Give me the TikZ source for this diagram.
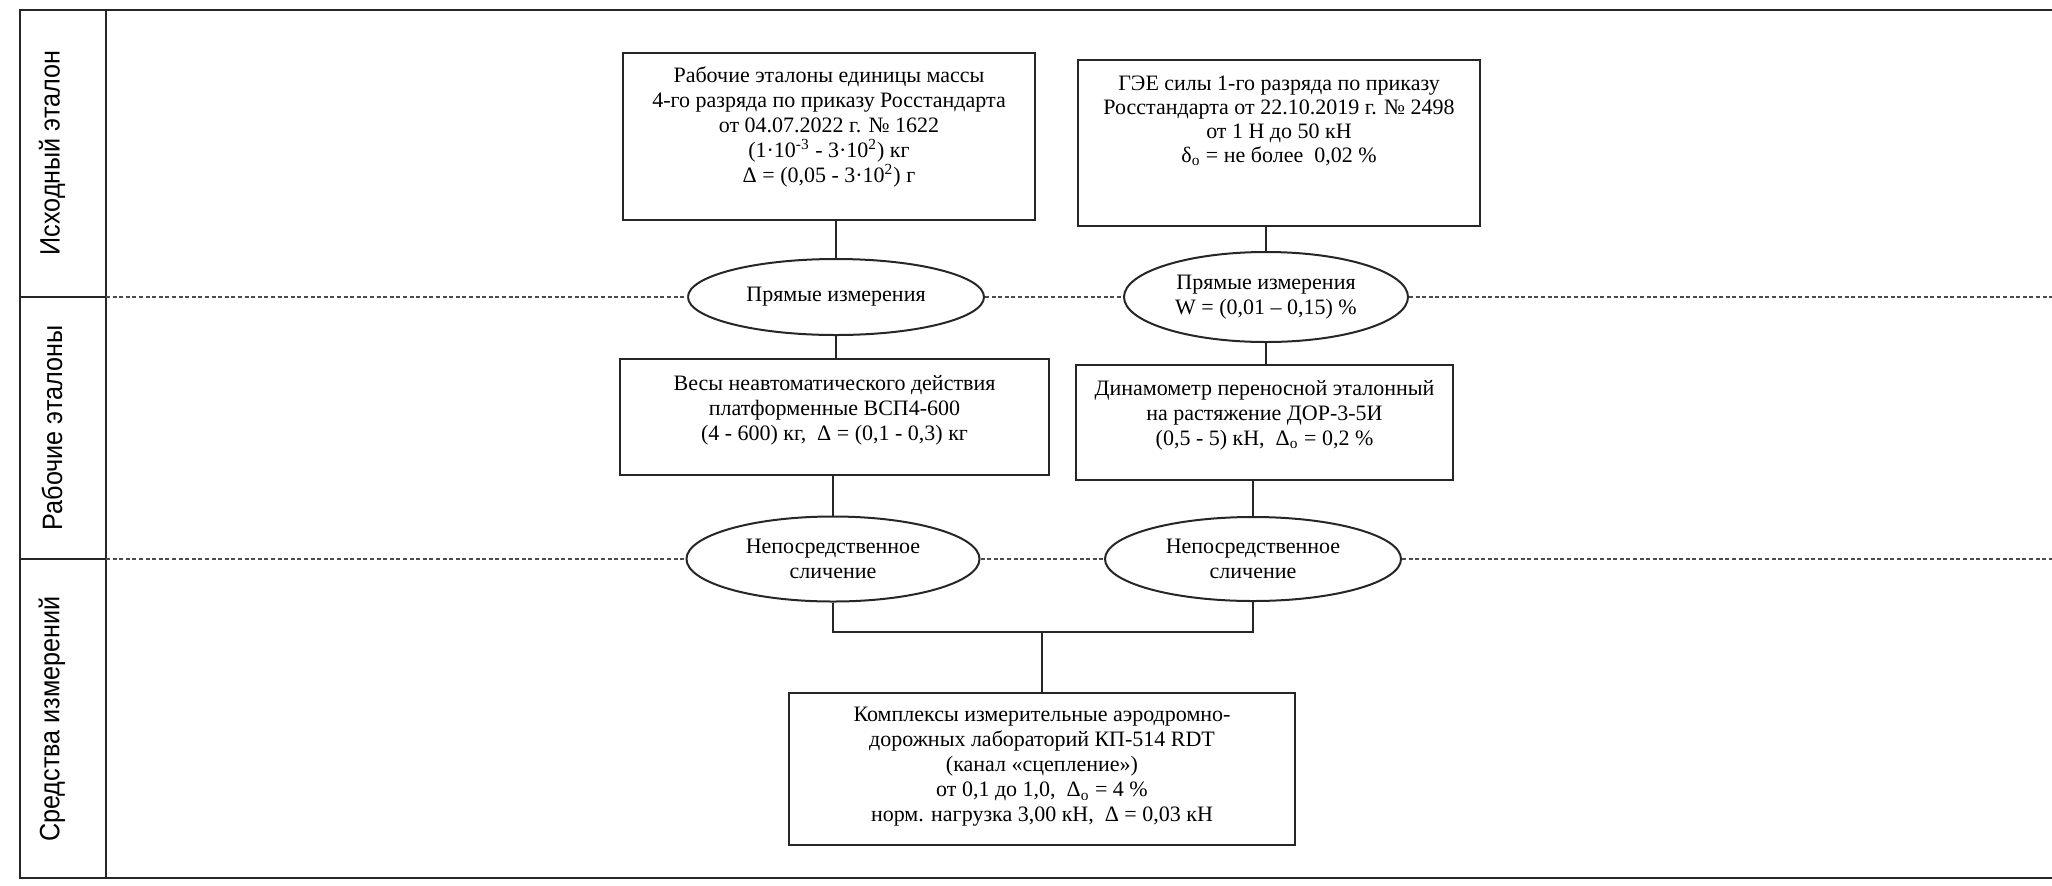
\documentclass[tikz,border=0pt]{standalone}
\usepackage{fontspec}
\setmainfont{Liberation Serif}
\newfontfamily\lblfont[FakeStretch=0.9]{Liberation Sans}
\usetikzlibrary{shapes.geometric}
\begin{document}
\begin{tikzpicture}[x=0.5pt,y=-0.5pt,
  ln/.style={draw=black!85, line width=0.9pt},
  boxnode/.style={draw=black!85, line width=1.2pt, rectangle, inner sep=0pt},
  ellnode/.style={draw=black!85, line width=1pt, ellipse, inner sep=0pt, align=center, font=\fontsize{11}{12.5}\selectfont},
  txt/.style={align=center, inner sep=0pt, font=\fontsize{11}{12.5}\selectfont},
  dotline/.style={draw=black!70, line width=0.6pt, dash pattern=on 2pt off 1.3pt},
  lbl/.style={rotate=90, font=\lblfont\fontsize{14}{16}\selectfont, inner sep=0pt}
]
\useasboundingbox (0,0) rectangle (2052,885);

% frame
\draw[ln] (2052,10) -- (20,10) -- (20,878) -- (2052,878);
\draw[ln, line width=1.1pt] (106,10) -- (106,878);
\draw[ln] (20,297) -- (106,297);
\draw[ln] (20,559) -- (106,559);
\coordinate (r1l) at (106,297);
\coordinate (r1r) at (2052,297);
\coordinate (r2l) at (106,559);
\coordinate (r2r) at (2052,559);

% row labels
\node[lbl] (L1) at (52,153) {Исходный эталон};
\node[lbl] (L2) at (52,428) {Рабочие эталоны};
\node[lbl] (L3) at (52,719) {Средства измерений};

% boxes
\node[boxnode, minimum width=206pt, minimum height=83.5pt] (b1) at (829,136.5) {};
\node[txt] (t1) at (829,127) {Рабочие эталоны единицы массы\\4-го разряда по приказу Росстандарта\\от 04.07.2022 г. № 1622\\(1·10\textsuperscript{-3} - 3·10\textsuperscript{2}) кг\\Δ = (0,05 - 3·10\textsuperscript{2}) г};

\node[boxnode, minimum width=201pt, minimum height=83pt] (b2) at (1279,143) {};
\node[txt, font=\fontsize{11}{12}\selectfont] (t2) at (1279,121) {ГЭЕ силы 1-го разряда по приказу\\Росстандарта от 22.10.2019 г. № 2498\\от 1 Н до 50 кН\\δ\textsubscript{o} = не более~ 0,02 \%};

\node[boxnode, minimum width=214.5pt, minimum height=58pt] (b3) at (834.5,417) {};
\node[txt] (t3) at (834.5,410) {Весы неавтоматического действия\\платформенные ВСП4-600\\(4 - 600) кг,~ Δ = (0,1 - 0,3) кг};

\node[boxnode, minimum width=188.5pt, minimum height=57.5pt] (b4) at (1264.5,422.5) {};
\node[txt] (t4) at (1264.5,415) {Динамометр переносной эталонный\\на растяжение ДОР-3-5И\\(0,5 - 5) кН,~ Δ\textsubscript{o} = 0,2 \%};

\node[boxnode, minimum width=253pt, minimum height=76pt] (b5) at (1042,769) {};
\node[txt] (t5) at (1042,767) {Комплексы измерительные аэродромно-\\дорожных лабораторий КП-514 RDT\\(канал «сцепление»)\\от 0,1 до 1,0,~ Δ\textsubscript{o} = 4 \%\\норм. нагрузка 3,00 кН,~ Δ = 0,03 кН};

% ellipses
\node[ellnode, minimum width=148pt, minimum height=38pt] (e1) at (836,297) {Прямые измерения};
\node[ellnode, minimum width=142pt, minimum height=45pt] (e2) at (1266,297) {Прямые измерения\\W = (0,01 – 0,15) \%};
\node[ellnode, minimum width=146.5pt, minimum height=42.5pt] (e3) at (833,559) {Непосредственное\\сличение};
\node[ellnode, minimum width=148pt, minimum height=42pt] (e4) at (1253,559) {Непосредственное\\сличение};

% dotted level lines
\draw[dotline] (r1l) -- (e1.west);
\draw[dotline] (e1.east) -- (e2.west);
\draw[dotline] (e2.east) -- (r1r);
\draw[dotline] (r2l) -- (e3.west);
\draw[dotline] (e3.east) -- (e4.west);
\draw[dotline] (e4.east) -- (r2r);

% connectors
\draw[ln] (b1.south -| e1) -- (e1.north);
\draw[ln] (b2.south -| e2) -- (e2.north);
\draw[ln] (e1.south) -- (e1.south |- b3.north);
\draw[ln] (e2.south) -- (e2.south |- b4.north);
\draw[ln] (b3.south -| e3) -- (e3.north);
\draw[ln] (b4.south -| e4) -- (e4.north);
\coordinate (j) at (1042,632);
\draw[ln] (e3.south) |- (j) -| (e4.south);
\draw[ln] (j) -- (j |- b5.north);
\end{tikzpicture}
\end{document}
